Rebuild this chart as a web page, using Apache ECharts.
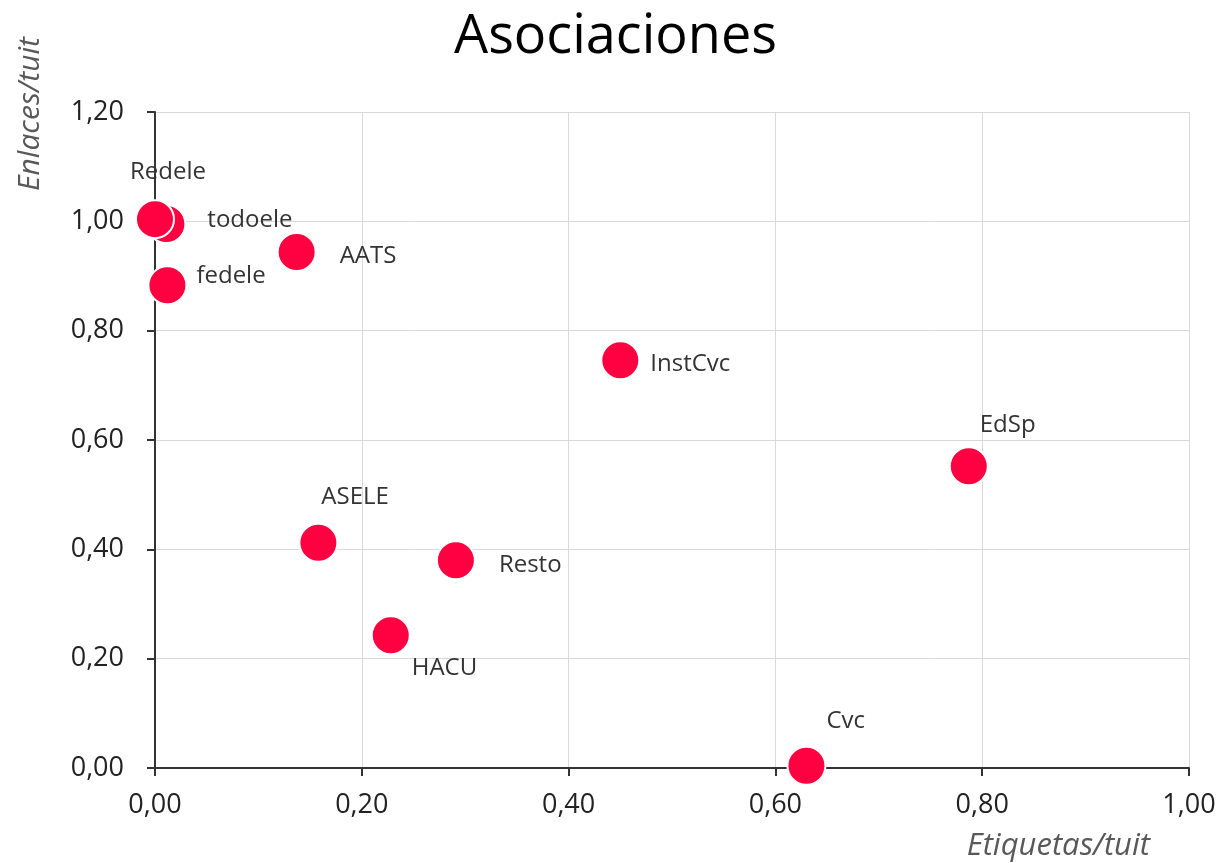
<!DOCTYPE html>
<html>
<head>
<meta charset="UTF-8">
<title>Asociaciones</title>
<script src="https://cdn.jsdelivr.net/npm/echarts@6/dist/echarts.min.js"></script>
<style>
html,body{margin:0;padding:0;background:#fff;}
#main{width:1231px;height:863px;}
</style>
</head>
<body>
<div id="main"></div>
<script type="text/javascript">
// datos
var nombres=['todoele','Redele','AATS','fedele','InstCvc','EdSp','ASELE','Resto','HACU','Cvc'];
var etiquetas=[0.011,0.000,0.137,0.012,0.450,0.787,0.158,0.291,0.228,0.630];
var enlaces=[0.995,1.004,0.944,0.883,0.746,0.552,0.412,0.380,0.243,0.004];

// donde va cada etiqueta respecto al punto
var posEtiqueta={
	'todoele':{align:'left',offset:[41,-4]},
	'Redele':{align:'center',offset:[13,-47]},
	'AATS':{align:'left',offset:[43,4]},
	'fedele':{align:'left',offset:[29,-9]},
	'InstCvc':{align:'left',offset:[30,4]},
	'EdSp':{align:'left',offset:[11,-41]},
	'ASELE':{align:'left',offset:[3,-46]},
	'Resto':{align:'left',offset:[43,5]},
	'HACU':{align:'left',offset:[21,33]},
	'Cvc':{align:'left',offset:[20,-45]}
};

var fuente='"Open Sans", "Noto Sans", sans-serif';

function coma(v){
	return v.toFixed(2).replace('.',',');
}

var puntos=[];
for(var i=0;i<nombres.length;i++){
	var p=posEtiqueta[nombres[i]];
	puntos.push({
		name:nombres[i],
		value:[etiquetas[i],enlaces[i]],
		label:{align:p.align,offset:p.offset}
	});
}

var myChart=echarts.init(document.getElementById('main'));
var option={
	animation:false,
	title:{
		text:'Asociaciones',
		left:'center',
		top:6,
		textStyle:{fontFamily:fuente,fontSize:54,fontWeight:'normal',color:'#000'}
	},
	grid:{left:155,right:42,top:112,bottom:95,containLabel:false},
	xAxis:{
		type:'value',
		min:0,max:1,interval:0.2,
		axisLine:{show:true,onZero:false,lineStyle:{color:'#333',width:2}},
		axisTick:{show:true,length:8,lineStyle:{color:'#333',width:2}},
		axisLabel:{formatter:coma,fontFamily:fuente,fontSize:27,color:'#222',margin:24},
		splitLine:{show:true,lineStyle:{color:'#d9d9d9',width:1}}
	},
	yAxis:{
		type:'value',
		min:0,max:1.2,interval:0.2,
		axisLine:{show:true,onZero:false,lineStyle:{color:'#333',width:2}},
		axisTick:{show:true,length:8,lineStyle:{color:'#333',width:2}},
		axisLabel:{formatter:coma,fontFamily:fuente,fontSize:27,color:'#222',margin:31},
		splitLine:{show:true,lineStyle:{color:'#d9d9d9',width:1}}
	},
	graphic:[
		{
			type:'text',
			x:30,y:114,
			rotation:Math.PI/2,
			style:{text:'Enlaces/tuit',font:'italic 30px '+fuente,fill:'#595959',align:'center',verticalAlign:'middle'}
		},
		{
			type:'text',
			x:1150,y:846,
			style:{text:'Etiquetas/tuit',font:'italic 31px '+fuente,fill:'#595959',align:'right',verticalAlign:'middle'}
		}
	],
	series:[{
		type:'scatter',
		symbolSize:38,
		itemStyle:{color:'#FF0040',borderColor:'#fff',borderWidth:2,opacity:1},
		label:{
			show:true,
			position:'inside',
			formatter:'{b}',
			verticalAlign:'middle',
			fontFamily:fuente,
			fontSize:24,
			color:'#333'
		},
		data:puntos
	}]
};
myChart.setOption(option);
</script>
</body>
</html>
